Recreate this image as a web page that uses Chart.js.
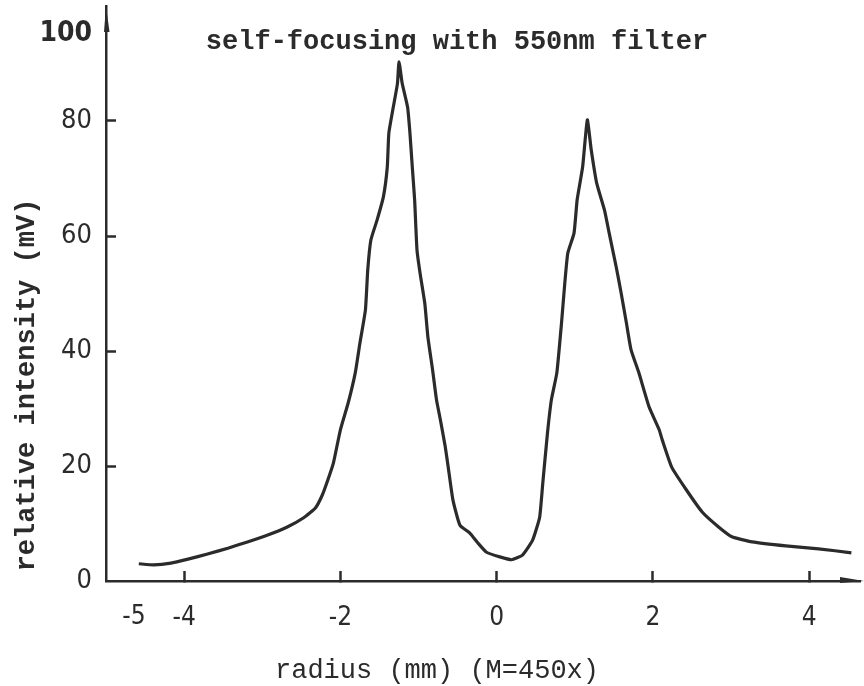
<!DOCTYPE html>
<html>
<head>
<meta charset="utf-8">
<script src="https://cdn.jsdelivr.net/npm/chart.js@4/dist/chart.umd.min.js"></script>
<style>
  html, body { margin: 0; padding: 0; background: #ffffff; }
  #wrap { width: 864px; height: 686px; }
</style>
</head>
<body>
<div id="wrap"><canvas id="c" width="864" height="686"></canvas></div>
<script>
// ---- data ----
const radius = [-4.58, -4.39, -4.17, -3.95, -3.70, -3.44, -3.19, -2.93, -2.68, -2.47,
  -2.32, -2.23, -2.16, -2.09, -2.00, -1.90, -1.81, -1.75, -1.68, -1.65,
  -1.61, -1.53, -1.45, -1.40, -1.38, -1.33, -1.27, -1.25, -1.21, -1.14,
  -1.11, -1.08, -1.05, -1.02, -0.98, -0.92, -0.88, -0.82, -0.77, -0.72,
  -0.66, -0.62, -0.56, -0.47, -0.34, -0.24, -0.13, 0.04, 0.19, 0.33,
  0.46, 0.55, 0.59, 0.65, 0.70, 0.77, 0.83, 0.87, 0.91, 0.99,
  1.03, 1.10, 1.16, 1.21, 1.28, 1.38, 1.44, 1.53, 1.59, 1.66,
  1.72, 1.82, 1.95, 2.08, 2.12, 2.24, 2.42, 2.63, 2.84, 3.01,
  3.27, 3.70, 4.12, 4.54];
const intensity = [3.0, 2.8, 3.1, 3.8, 4.7, 5.7, 6.8, 8.0, 9.4, 11.0,
  12.7, 15.0, 17.6, 20.5, 26.3, 31.0, 36.2, 41.4, 47.1, 54.1,
  59.3, 62.8, 66.8, 72.0, 77.9, 81.9, 86.5, 90.3, 86.6, 82.4,
  77.9, 72.0, 66.3, 57.6, 53.5, 48.3, 42.4, 36.7, 31.5, 28.0,
  23.5, 19.8, 14.1, 9.7, 8.3, 6.6, 5.0, 4.2, 3.7, 4.5,
  7.1, 11.1, 17.0, 25.7, 31.5, 36.2, 44.9, 51.5, 57.0, 60.5,
  66.3, 72.0, 80.2, 75.0, 69.2, 64.5, 60.5, 54.6, 50.3, 44.9,
  40.2, 36.2, 30.3, 26.3, 24.5, 19.8, 16.0, 12.0, 9.4, 7.7,
  6.8, 6.1, 5.6, 4.9];
const xTicks = [-4, -2, 0, 2, 4];
const yTicks = [0, 20, 40, 60, 80, 100];
const titleText = 'self-focusing with 550nm filter';
const xTitle = 'radius (mm) (M=450x)';
const yTitle = 'relative intensity (mV)';

const INK = '#2b2b2b';
const TICK_FONT = '"DejaVu Sans Condensed", "Liberation Sans Narrow", Roboto, sans-serif';
const MONO = '"Liberation Mono", "DejaVu Sans Mono", monospace';

const annotate = {
  id: 'annotate',
  afterDraw(chart) {
    const ctx = chart.ctx;
    const a = chart.chartArea;
    const xs = chart.scales.x, ys = chart.scales.y;
    ctx.save();
    ctx.fillStyle = INK;
    ctx.strokeStyle = INK;
    // y axis arrow head
    const top = ys.getPixelForValue(100);
    ctx.beginPath();
    ctx.moveTo(a.left, top);
    ctx.lineTo(a.left + 3.5, top + 26);
    ctx.lineTo(a.left - 2, top + 26);
    ctx.closePath();
    ctx.fill();
    // x axis arrow head
    ctx.beginPath();
    ctx.moveTo(a.right + 4, a.bottom);
    ctx.lineTo(a.right - 20, a.bottom - 4);
    ctx.lineTo(a.right - 20, a.bottom + 2);
    ctx.closePath();
    ctx.fill();
    // title
    ctx.font = 'bold 27px ' + MONO;
    ctx.textAlign = 'center';
    ctx.textBaseline = 'middle';
    ctx.fillText(titleText, 457, 42);
    // x axis title
    ctx.font = '27px ' + MONO;
    ctx.fillText(xTitle, 437, 671);
    // y axis title
    ctx.save();
    ctx.translate(27, 385);
    ctx.rotate(-Math.PI / 2);
    ctx.font = 'bold 27px ' + MONO;
    ctx.fillText(yTitle, 0, 0);
    ctx.restore();
    // top y label, set below the arrow as in the original
    ctx.font = 'bold 28px ' + TICK_FONT;
    ctx.textAlign = 'right';
    ctx.fillText(String(yTicks[yTicks.length - 1]), a.left - 14, top + 28);
    // first x label, moved right of the y axis as in the original
    ctx.font = '26px ' + TICK_FONT;
    ctx.textAlign = 'center';
    ctx.fillText(String(xs.min), xs.getPixelForValue(xs.min) + 28, 617);
    ctx.restore();
  }
};

new Chart(document.getElementById('c'), {
  type: 'line',
  data: {
    datasets: [{
      data: radius.map((r, i) => ({ x: r, y: intensity[i] })),
      borderColor: INK,
      borderWidth: 3.2,
      pointRadius: 0,
      tension: 0.15,
      fill: false
    }]
  },
  options: {
    responsive: false,
    animation: false,
    layout: { padding: { left: 0, top: 6, right: 4, bottom: 0 } },
    plugins: { legend: { display: false }, title: { display: false }, tooltip: { enabled: false } },
    scales: {
      x: {
        type: 'linear',
        min: -5,
        max: 4.65,
        afterBuildTicks: s => { s.ticks = xTicks.map(v => ({ value: v })); },
        afterFit: s => { s.height = 105; s.paddingLeft = 0; s.paddingRight = 0; },
        border: { display: true, color: INK, width: 2.5 },
        grid: { drawOnChartArea: false, tickLength: -10, tickWidth: 2.5, tickColor: INK },
        ticks: { color: INK, padding: 32, font: { family: TICK_FONT, size: 26 } }
      },
      y: {
        type: 'linear',
        min: 0,
        max: 100,
        afterBuildTicks: s => { s.ticks = yTicks.map(v => ({ value: v })); },
        afterFit: s => { s.width = 106; s.paddingTop = 0; s.paddingBottom = 0; },
        border: { display: true, color: INK, width: 2.5 },
        grid: {
          drawOnChartArea: false, tickLength: -10, tickWidth: 2.5,
          tickColor: c => (c.tick && (c.tick.value === 100 || c.tick.value === 0)) ? 'rgba(0,0,0,0)' : INK
        },
        ticks: {
          color: INK, padding: 24, font: { family: TICK_FONT, size: 27 },
          callback: v => (v === 100 ? '' : String(v))
        }
      }
    }
  },
  plugins: [annotate]
});
</script>
</body>
</html>
